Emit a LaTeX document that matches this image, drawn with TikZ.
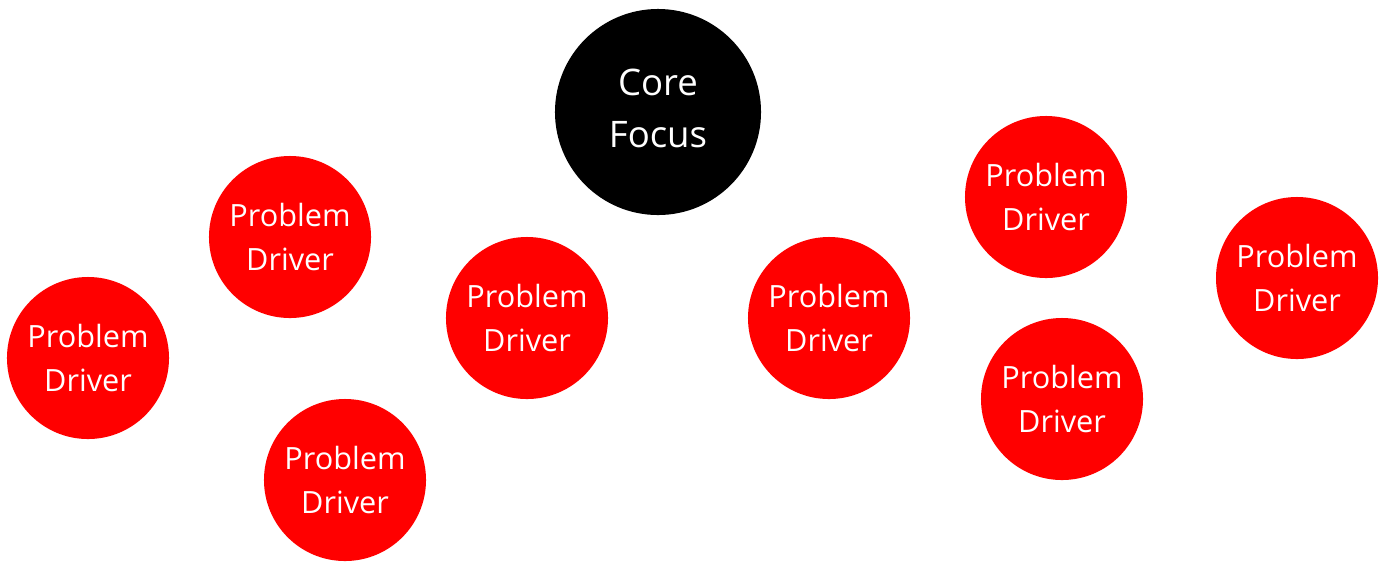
\documentclass[tikz,border=0pt]{standalone}
\usepackage{fontspec}
\setmainfont{Open Sans}

\tikzset{core/.style={circle,fill=black,text=white,minimum size=5.15cm,inner sep=0pt,align=center,font=\fontsize{26}{37}\selectfont}}
\tikzset{driver/.style={circle,fill=red,text=white,minimum size=4.05cm,inner sep=0pt,align=center,font=\fontsize{21.8}{31.3}\selectfont}}

\begin{document}
\begin{tikzpicture}[x=0.025cm,y=-0.025cm]
        \useasboundingbox (0,0) rectangle (1387,562);
        % the core focus
        \node[core] (core) at (658,112) {Core\\Focus\rule[-6pt]{0pt}{1pt}};
        % problem drivers, left to right
        \node[driver] (pdA) at (88,358) {Problem\\Driver};
        \node[driver] (pdB) at (290,237) {Problem\\Driver};
        \node[driver] (pdC) at (345,480) {Problem\\Driver};
        \node[driver] (pdD) at (527,318) {Problem\\Driver};
        \node[driver] (pdE) at (829,318) {Problem\\Driver};
        \node[driver] (pdF) at (1046,197) {Problem\\Driver};
        \node[driver] (pdG) at (1062,399) {Problem\\Driver};
        \node[driver] (pdH) at (1297,278) {Problem\\Driver};
    \end{tikzpicture}
\end{document}
